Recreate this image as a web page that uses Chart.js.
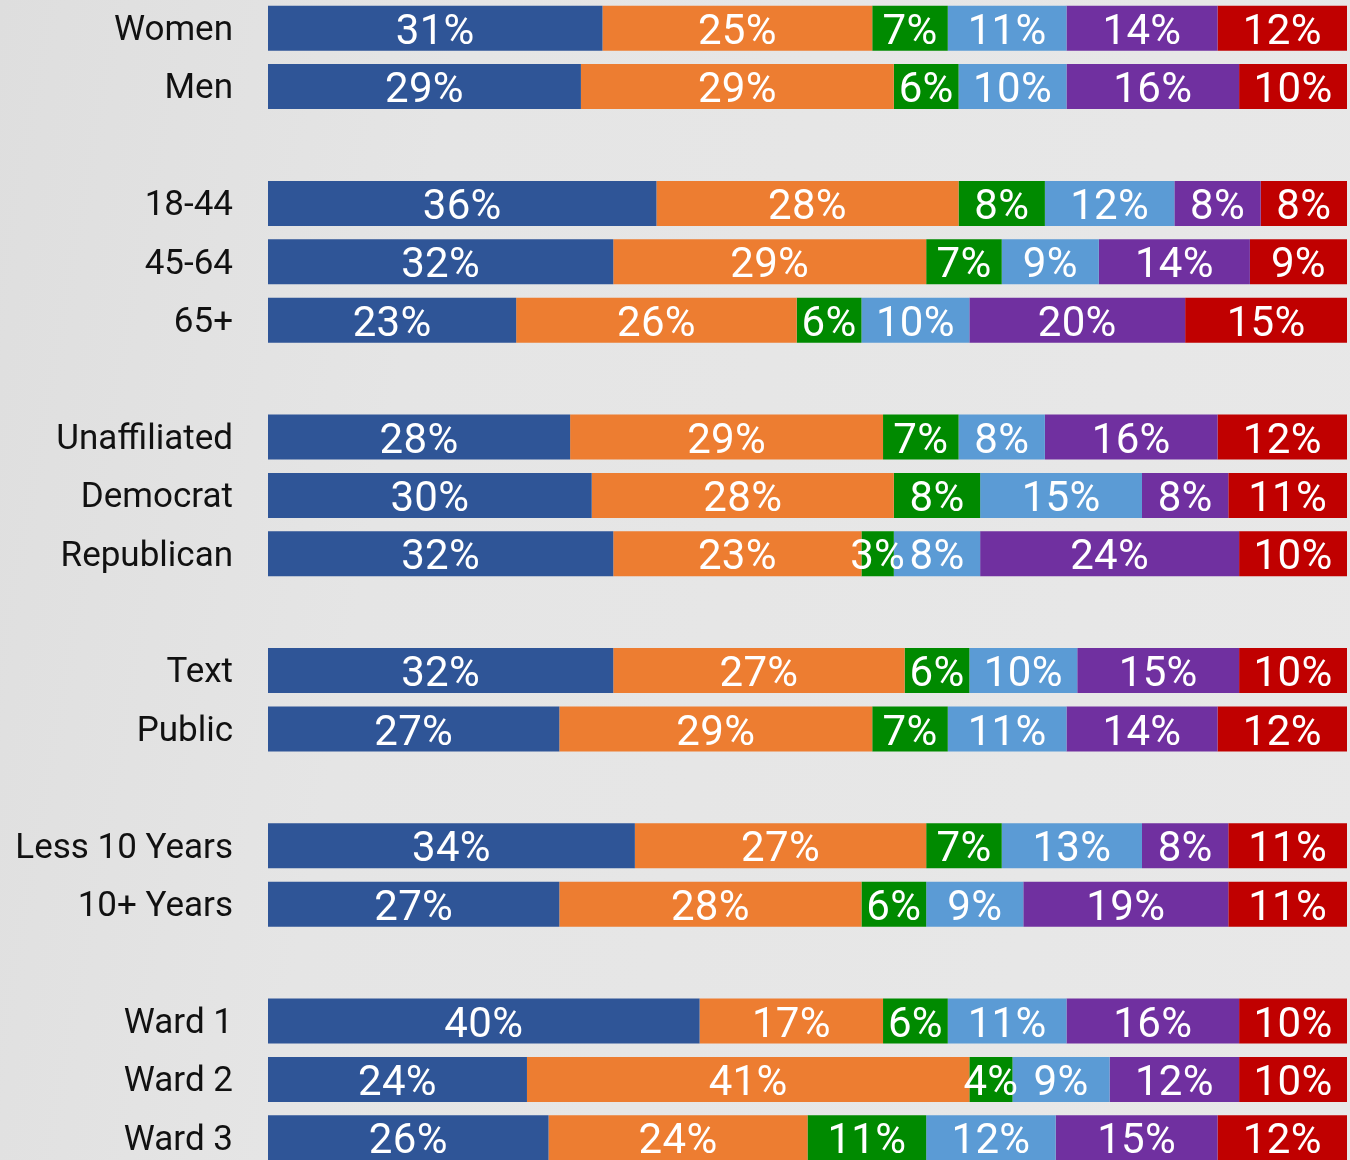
<!DOCTYPE html>
<html>
<head>
<meta charset="utf-8">
<script src="https://cdn.jsdelivr.net/npm/chart.js@4"></script>
<style>
    html, body {
        margin: 0;
        padding: 0;
        width: 1350px;
        height: 1160px;
        overflow: hidden;
        background: linear-gradient(100deg, #dedede 0%, #e5e5e5 30%, #e8e8e8 100%);
    }
    #wrap {
        position: absolute;
        left: 0;
        top: -1px;
        width: 1350px;
        height: 1168px;
    }
</style>
</head>
<body>
<div id="wrap"><canvas id="groupsChart"></canvas></div>
<script>
// rows of the chart, '' rows are the blank gaps between groups
const categories = ['Women', 'Men', '', '18-44', '45-64', '65+', '', 'Unaffiliated', 'Democrat', 'Republican', '',
    'Text', 'Public', '', 'Less 10 Years', '10+ Years', '', 'Ward 1', 'Ward 2', 'Ward 3'];

const series1 = [31, 29, null, 36, 32, 23, null, 28, 30, 32, null, 32, 27, null, 34, 27, null, 40, 24, 26];
const series2 = [25, 29, null, 28, 29, 26, null, 29, 28, 23, null, 27, 29, null, 27, 28, null, 17, 41, 24];
const series3 = [7, 6, null, 8, 7, 6, null, 7, 8, 3, null, 6, 7, null, 7, 6, null, 6, 4, 11];
const series4 = [11, 10, null, 12, 9, 10, null, 8, 15, 8, null, 10, 11, null, 13, 9, null, 11, 9, 12];
const series5 = [14, 16, null, 8, 14, 20, null, 16, 8, 24, null, 15, 14, null, 8, 19, null, 16, 12, 15];
const series6 = [12, 10, null, 8, 9, 15, null, 12, 11, 10, null, 10, 12, null, 11, 11, null, 10, 10, 12];

const seriesNames = ['Series 1', 'Series 2', 'Series 3', 'Series 4', 'Series 5', 'Series 6'];
const colors = ['#2f5597', '#ed7d31', '#008a00', '#5b9bd5', '#7030a0', '#c00000'];

// row names on the left, drawn by hand so they sit on the bar centres
const rowLabels = {
    id: 'rowLabels',
    afterDraw(chart) {
        const ctx = chart.ctx;
        const y = chart.scales.y;
        ctx.save();
        ctx.font = '35px Roboto';
        ctx.fillStyle = '#111111';
        ctx.textAlign = 'right';
        ctx.textBaseline = 'middle';
        categories.forEach((c, i) => {
            if (!c) return;
            ctx.fillText(c, chart.chartArea.left - 35, y.getPixelForValue(i) + 3);
        });
        ctx.restore();
    }
};

// draws the white percentage inside each segment
const segmentLabels = {
    id: 'segmentLabels',
    afterDatasetsDraw(chart) {
        const ctx = chart.ctx;
        ctx.save();
        ctx.letterSpacing = '0.3px';
        ctx.font = '42px Roboto';
        ctx.fillStyle = '#ffffff';
        ctx.textAlign = 'center';
        ctx.textBaseline = 'middle';
        chart.data.datasets.forEach((ds, i) => {
            chart.getDatasetMeta(i).data.forEach((bar, j) => {
                const v = ds.data[j];
                if (v === null || v === undefined) return;
                ctx.fillText(v + '%', (bar.x + bar.base) / 2, bar.y + 5);
            });
        });
        ctx.restore();
    }
};

function renderGroupsChart() {
    const allSeries = [series1, series2, series3, series4, series5, series6];
    const ctx = document.getElementById('groupsChart').getContext('2d');
    new Chart(ctx, {
        type: 'bar',
        data: {
            labels: categories,
            datasets: allSeries.map((d, i) => ({
                label: seriesNames[i],
                data: d,
                backgroundColor: colors[i],
                borderWidth: 0,
                barPercentage: 0.77,
                categoryPercentage: 1
            }))
        },
        options: {
            indexAxis: 'y',
            responsive: true,
            maintainAspectRatio: false,
            animation: false,
            layout: { padding: { top: 0, right: 3, bottom: 0, left: 0 } },
            plugins: {
                legend: { display: false },
                tooltip: { enabled: false }
            },
            scales: {
                x: {
                    stacked: true,
                    min: 0,
                    max: 100,
                    display: false
                },
                y: {
                    stacked: true,
                    grid: { display: false, drawTicks: false },
                    border: { display: false },
                    afterFit: (scale) => {
                        scale.width = 268;
                        scale.paddingTop = 0;
                        scale.paddingBottom = 0;
                    },
                    ticks: { display: false }
                }
            }
        },
        plugins: [segmentLabels, rowLabels]
    });
}

document.addEventListener('DOMContentLoaded', () => {
    renderGroupsChart();
});
</script>
</body>
</html>
